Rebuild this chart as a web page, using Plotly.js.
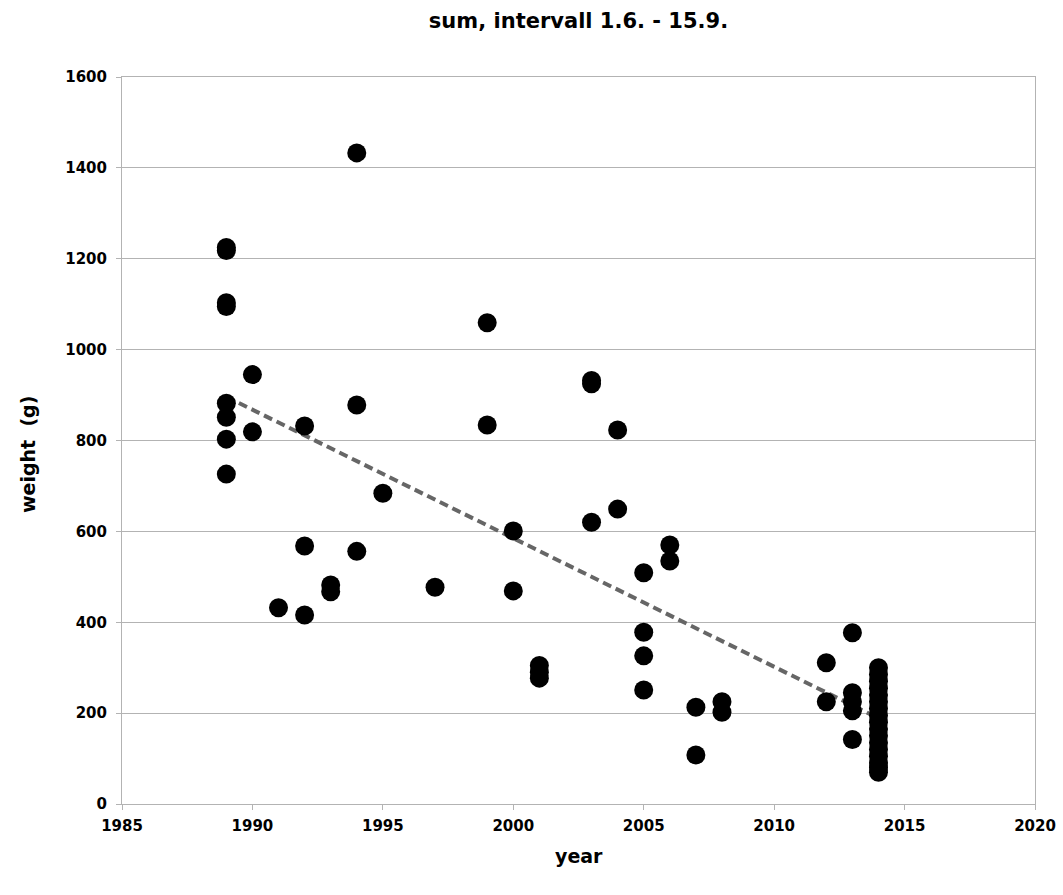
<!DOCTYPE html>
<html>
<head>
<meta charset="utf-8">
<script src="https://cdn.plot.ly/plotly-3.0.1.min.js"></script>
<style>html,body{margin:0;padding:0;background:#fff;}#chart{width:1063px;height:895px;}</style>
</head>
<body>
<div id="chart"></div>
<script>
// Data
const years = [
  1989,1989,1989,1989,1989,1989,1989,1989,
  1990,1990,
  1991,
  1992,1992,1992,
  1993,1993,
  1994,1994,1994,
  1995,
  1997,
  1999,1999,
  2000,2000,
  2001,2001,2001,
  2003,2003,2003,
  2004,2004,
  2005,2005,2005,2005,
  2006,2006,
  2007,2007,
  2008,2008,
  2012,2012,
  2013,2013,2013,2013,2013,
  2014,2014,2014,2014,2014,2014,2014,2014,2014,2014,2014,2014,2014,2014,2014,2014,2014
];
const weights = [
  1225,1218,1103,1095,882,851,803,726,
  945,819,
  432,
  832,568,416,
  482,467,
  1433,878,556,
  684,
  477,
  1059,834,
  601,469,
  305,290,277,
  932,925,620,
  823,649,
  509,378,326,251,
  570,535,
  213,108,
  225,202,
  311,225,
  377,245,225,205,142,
  300,285,270,255,240,225,210,195,180,165,150,135,120,105,90,80,70
];
const xTicks = [1985,1990,1995,2000,2005,2010,2015,2020];
const yTicks = [0,200,400,600,800,1000,1200,1400,1600];

// linear least-squares trend computed from the data
const n = years.length;
const mx = years.reduce((a,b)=>a+b,0)/n;
const my = weights.reduce((a,b)=>a+b,0)/n;
let sxy = 0, sxx = 0;
for (let i=0;i<n;i++){ sxy += (years[i]-mx)*(weights[i]-my); sxx += (years[i]-mx)*(years[i]-mx); }
const slope = sxy/sxx, icpt = my - slope*mx;
const xmin = Math.min(...years), xmax = Math.max(...years);
const trendX = [xmin, xmax];
const trendY = trendX.map(x => icpt + slope*x);

const FONT = 'DejaVu Sans, Liberation Sans, Arial, sans-serif';

const traces = [
  {
    x: trendX, y: trendY, type: 'scatter', mode: 'lines',
    line: {color: '#666666', width: 4, dash: '9px,5px'},
    hoverinfo: 'skip', showlegend: false
  },
  {
    x: years, y: weights, type: 'scatter', mode: 'markers',
    marker: {color: '#000000', size: 19, line: {width: 0}},
    showlegend: false
  }
];

const axisCommon = {
  showgrid: true, gridcolor: '#b3b3b3', gridwidth: 1,
  showline: true, linecolor: '#b3b3b3', linewidth: 1, mirror: true,
  ticks: 'outside', ticklen: 5, tickcolor: '#b3b3b3', tickwidth: 1,
  zeroline: false,
  tickfont: {family: FONT, size: 15, color: '#000', weight: 'bold'}
};

const layout = {
  width: 1063, height: 895,
  margin: {l: 122, r: 28, t: 77, b: 91},
  paper_bgcolor: '#ffffff', plot_bgcolor: '#ffffff',
  title: {
    text: 'sum, intervall 1.6. - 15.9.',
    font: {family: FONT, size: 21, color: '#000', weight: 'bold'},
    xref: 'paper', x: 0.5, xanchor: 'center',
    yref: 'container', y: 1 - 21/895, yanchor: 'middle'
  },
  xaxis: Object.assign({}, axisCommon, {
    range: [1985, 2020], tickvals: xTicks, ticktext: xTicks.map(String),
    showgrid: false, ticklabelstandoff: 3
  }),
  yaxis: Object.assign({}, axisCommon, {
    range: [0, 1600], tickvals: yTicks, ticktext: yTicks.map(String),
    ticklabelstandoff: 6
  }),
  annotations: [
    {
      text: 'year', showarrow: false,
      xref: 'paper', yref: 'paper', x: 0.5, y: -(856-804)/727,
      xanchor: 'center', yanchor: 'middle',
      font: {family: FONT, size: 19, color: '#000', weight: 'bold'}
    },
    {
      text: 'weight  (g)', showarrow: false, textangle: -90,
      xref: 'paper', yref: 'paper', x: -(122-28)/913, y: (804-455)/727,
      xanchor: 'center', yanchor: 'middle',
      font: {family: FONT, size: 19, color: '#000', weight: 'bold'}
    }
  ]
};

Plotly.newPlot('chart', traces, layout, {displayModeBar: false, staticPlot: true});
</script>
</body>
</html>
